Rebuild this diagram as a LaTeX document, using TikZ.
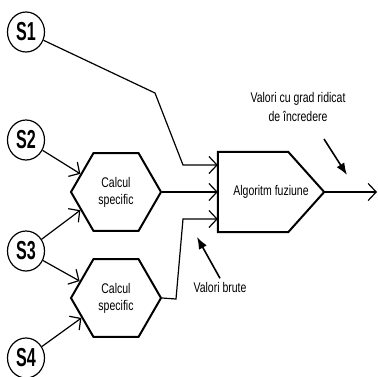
\documentclass[tikz,border=0pt]{standalone}
\usepackage{fontspec}
\setmainfont{Liberation Sans}[FakeStretch=0.75]
\newfontfamily\sensorfont{Liberation Sans}[FakeStretch=0.62]
\usetikzlibrary{arrows.meta,shapes.geometric,positioning,calc}
\tikzset{
    % sources
    sensor/.style={
           ellipse,
           draw=black, line width=1.2pt,
           minimum width=37pt,
           minimum height=40pt,
           inner sep=0pt,
           font=\sensorfont\bfseries\fontsize{26}{26}\selectfont},
    % processing blocks
    calcbox/.style={
           regular polygon, regular polygon sides=6,
           draw=black, line width=2pt,
           minimum size=90pt,
           inner sep=0pt,
           align=center,
           font=\fontsize{14}{17}\selectfont},
    fusbox/.style={
           rectangle,
           minimum width=106pt,
           minimum height=80pt,
           font=\fontsize{14}{17}\selectfont},
    outline/.style={
           draw=black, line width=2pt, line join=miter},
    note/.style={
           align=center,
           font=\fontsize{14}{19}\selectfont},
    % connectors
    pil/.style={
           -{Straight Barb[length=8pt,width=17pt]},
           line width=1.2pt},
    hint/.style={
           -{Latex[length=12pt,width=9pt]},
           line width=1.6pt}
}
\begin{document}
\begin{tikzpicture}[x=1pt,y=-1pt]
\useasboundingbox (0,0) rectangle (378,376);
\node[sensor] (s1) at (26,32) {S1};
\node[sensor] (s2) at (26,140) {S2};
\node[sensor] (s3) at (26,251) {S3};
\node[sensor] (s4) at (26,358) {S4};
\node[calcbox] (c1) at (116,192) {Calcul\\specific};
\node[calcbox] (c2) at (116,298) {Calcul\\specific};
\node[fusbox] (fuz) at (271,192) {Algoritm fuziune};
\draw[outline] (fuz.north west) -- ([xshift=-36pt]fuz.north east) -- (fuz.east)
      -- ([xshift=-36pt]fuz.south east) -- (fuz.south west) -- cycle;
% bend points
\coordinate (k1) at (155,93);
\coordinate (k2) at (183,165);
\coordinate (k3) at (176,299);
\coordinate (k4) at (183,219);
\coordinate (out) at (377,192);
\draw[pil] (s2) -- (c1.153);
\draw[pil] (s3) -- (c1.207);
\draw[pil] (s3) -- (c2.155);
\draw[pil] (s4) -- (c2.210);
\draw[pil] (s1) -- (k1) -- (k2) -- (k2 -| fuz.west);
\draw[pil] (c1.east) -- (c1.east -| fuz.west);
\draw[pil] (c2.east) -- (k3) -- (k4) -- (k4 -| fuz.west);
\draw[pil] (fuz.east) -- (out);
% annotations
\node[note] (high) at (298,107) {Valori cu grad ridicat\\de încredere};
\coordinate (h1) at (324,139);
\coordinate (h2) at (347,175);
\draw[hint] (h1) -- (h2);
\node[note] (raw) at (220,287) {Valori brute};
\coordinate (r2) at (197,237);
\draw[hint] (raw.north) -- (r2);
\end{tikzpicture}
\end{document}
